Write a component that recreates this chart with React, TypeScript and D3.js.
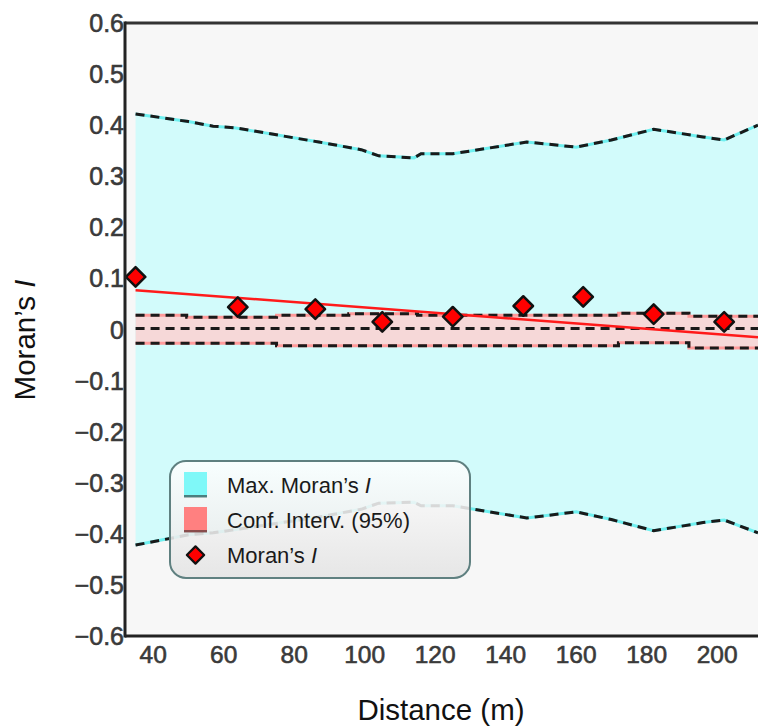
import React from 'react';
import * as d3 from 'd3';

// Moran's I correlogram: observed values per distance class
const distances = [35, 64, 86, 105, 125, 145, 162, 182, 202];
const moransI = [0.103, 0.044, 0.040, 0.015, 0.025, 0.046, 0.064, 0.030, 0.015];

// max Moran's I envelope (vertices)
const envX = [35, 50, 57, 63, 87, 99, 104, 114, 116, 125, 146, 160, 170, 182, 196, 202, 211.6];
const envUpper = [0.422, 0.407, 0.398, 0.395, 0.367, 0.352, 0.340, 0.336, 0.344, 0.344, 0.367, 0.357, 0.371, 0.392, 0.377, 0.371, 0.400];
const envLower = [-0.422, -0.402, -0.398, -0.392, -0.367, -0.352, -0.340, -0.338, -0.345, -0.345, -0.369, -0.357, -0.372, -0.394, -0.378, -0.373, -0.398];

// 95% confidence interval and expected value per class
const ciX = [35, 64, 86, 105, 125, 145, 162, 182, 202, 211.6];
const ciUpper = [0.028, 0.024, 0.028, 0.031, 0.028, 0.028, 0.028, 0.032, 0.026, 0.026];
const ciLower = [-0.027, -0.027, -0.032, -0.032, -0.032, -0.032, -0.032, -0.026, -0.036, -0.036];
const expectedI = [0.002, 0.002, 0.002, 0.002, 0.002, 0.002, 0.002, 0.002, 0.002, 0.002];

// trend line end points
const trendX = [35, 211.6];
const trendY = [0.077, -0.015];

const xTicks = [40, 60, 80, 100, 120, 140, 160, 180, 200];
const yTicks = [0.6, 0.5, 0.4, 0.3, 0.2, 0.1, 0, -0.1, -0.2, -0.3, -0.4, -0.5, -0.6];

const W = 758;
const H = 726;
const left = 125, top = 23, bottom = 636, right = 758;
const font = 'Liberation Sans, Arial, sans-serif';

export default function App() {
  const x = d3.scaleLinear().domain([32, 211.6]).range([left, right]);
  const y = d3.scaleLinear().domain([-0.6, 0.6]).range([bottom, top]);
  const fmt = d3.format('.1f');

  const envData = envX.map((d, i) => ({ x: d, hi: envUpper[i], lo: envLower[i] }));
  const ciData = ciX.map((d, i) => ({ x: d, hi: ciUpper[i], lo: ciLower[i], e: expectedI[i] }));

  const envArea = d3.area<any>().x(d => x(d.x)).y0(d => y(d.lo)).y1(d => y(d.hi))(envData);
  const envHi = d3.line<any>().x(d => x(d.x)).y(d => y(d.hi))(envData);
  const envLo = d3.line<any>().x(d => x(d.x)).y(d => y(d.lo))(envData);

  const ciArea = d3.area<any>().curve(d3.curveStep).x(d => x(d.x)).y0(d => y(d.lo)).y1(d => y(d.hi))(ciData);
  const ciHi = d3.line<any>().curve(d3.curveStep).x(d => x(d.x)).y(d => y(d.hi))(ciData);
  const ciLo = d3.line<any>().curve(d3.curveStep).x(d => x(d.x)).y(d => y(d.lo))(ciData);
  const ciMid = d3.line<any>().curve(d3.curveStep).x(d => x(d.x)).y(d => y(d.e))(ciData);

  const trend = d3.line<number>().x((d, i) => x(trendX[i])).y(d => y(d))(trendY);

  const diamond = d3.symbol().type(d3.symbolSquare).size(190)();
  const legDiamond = d3.symbol().type(d3.symbolSquare).size(150)();

  const dashed = (d: string | null, under: string) => (
    <g>
      <path d={d || ''} fill="none" stroke={under} strokeWidth={3} />
      <path d={d || ''} fill="none" stroke="#1a1a1a" strokeWidth={3} strokeDasharray="9,6" />
    </g>
  );

  return (
    <svg width={W} height={H} style={{ position: 'absolute', left: 0, top: 0, background: '#fff' }}>
      <defs>
        <clipPath id="plot">
          <rect x={left} y={top} width={right - left} height={bottom - top} />
        </clipPath>
        <linearGradient id="legbg" x1="0" y1="0" x2="0" y2="1">
          <stop offset="0" stopColor="#ffffff" stopOpacity={0.85} />
          <stop offset="1" stopColor="#e4e4e4" stopOpacity={0.9} />
        </linearGradient>
      </defs>

      <rect x={left} y={top} width={right - left} height={bottom - top} fill="#f7f7f7" />

      <g clipPath="url(#plot)">
        <path d={envArea || ''} fill="#d2fbfb" />
        {dashed(envHi, '#6ff0f0')}
        {dashed(envLo, '#6ff0f0')}

        <path d={ciArea || ''} fill="#f6d8d8" />
        {dashed(ciHi, '#ff9a9a')}
        {dashed(ciLo, '#ff9a9a')}
        <path d={ciMid || ''} fill="none" stroke="#1a1a1a" strokeWidth={3} strokeDasharray="9,6" />

        <path d={trend || ''} fill="none" stroke="#ff1a1a" strokeWidth={2.5} />

        {distances.map((d, i) => (
          <path key={i} d={diamond || ''}
            transform={`translate(${x(d)},${y(moransI[i])}) rotate(45)`}
            fill="#ff0000" stroke="#111" strokeWidth={2.5} strokeLinejoin="round" />
        ))}
      </g>

      {/* frame */}
      <line x1={left} x2={right} y1={top} y2={top} stroke="#333" strokeWidth={3} />
      <line x1={left} x2={right} y1={bottom} y2={bottom} stroke="#222" strokeWidth={3} />
      <line x1={left} x2={left} y1={top - 1.5} y2={bottom + 1.5} stroke="#222" strokeWidth={3} />

      {/* y ticks */}
      {yTicks.map(t => (
        <text key={t} x={left - 1} y={y(t) + 9} textAnchor="end" fontFamily={font} fontSize={25}
          fill="#3a3a3a" stroke="#3a3a3a" strokeWidth={0.6}>
          {t === 0 ? '0' : fmt(t)}
        </text>
      ))}
      {/* x ticks */}
      {xTicks.map(t => (
        <text key={t} x={x(t)} y={663} textAnchor="middle" fontFamily={font} fontSize={24.5}
          fill="#3a3a3a" stroke="#3a3a3a" strokeWidth={0.6}>
          {t}
        </text>
      ))}

      <text x={441} y={720} textAnchor="middle" fontFamily={font} fontSize={29.5} fill="#111">Distance (m)</text>
      <text transform="translate(35,340) rotate(-90)" textAnchor="middle" fontFamily={font} fontSize={29.5} fill="#111">
        Moran’s <tspan fontStyle="italic">I</tspan>
      </text>

      {/* legend */}
      <g>
        <rect x={170} y={461} width={300} height={117} rx={16} fill="url(#legbg)" stroke="#5f8080" strokeWidth={2} />
        <rect x={184} y={472} width={23} height={25} fill="#7ff8f8" />
        <rect x={184} y={495} width={23} height={2.5} fill="#3d6060" opacity={0.8} />
        <rect x={184} y={507} width={23} height={25} fill="#ff8080" />
        <rect x={184} y={530} width={23} height={2.5} fill="#6a4040" opacity={0.8} />
        <path d={legDiamond || ''} transform="translate(195.5,555) rotate(45)" fill="#ff0000" stroke="#111" strokeWidth={2.2} strokeLinejoin="round" />
        <text x={227} y={493} fontFamily={font} fontSize={22} fill="#1a1a1a">Max. Moran’s <tspan fontStyle="italic">I</tspan></text>
        <text x={227} y={528} fontFamily={font} fontSize={22} fill="#1a1a1a">Conf. Interv. (95%)</text>
        <text x={227} y={563} fontFamily={font} fontSize={22} fill="#1a1a1a">Moran’s <tspan fontStyle="italic">I</tspan></text>
      </g>
    </svg>
  );
}
